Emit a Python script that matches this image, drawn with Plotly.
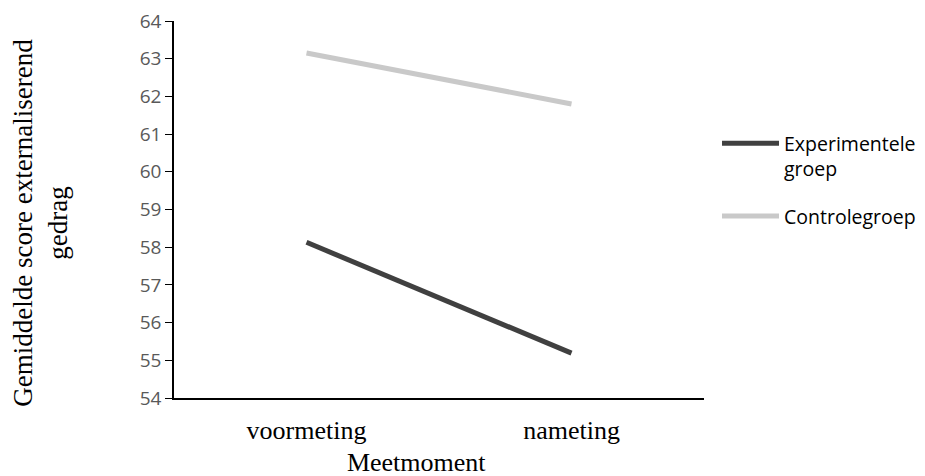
import plotly.graph_objects as go

categories = ["voormeting", "nameting"]
experimentele = [58.13, 55.19]
controle = [63.15, 61.8]
y_ticks = list(range(54, 65))

NB = "\u00a0"
END = "\u200b"
fig = go.Figure()
fig.add_trace(go.Scatter(x=categories, y=experimentele, mode="lines",
                         name="Experimentele<br>groep", legendgroup="exp",
                         line=dict(color="#404040", width=5)))
fig.add_trace(go.Scatter(x=categories, y=controle, mode="lines",
                         name="Controlegroep", legendgroup="ctl",
                         line=dict(color="#c9c9c9", width=5)))

serif = "Liberation Serif"
fig.update_layout(
    width=925, height=476,
    margin=dict(l=166, r=229, t=13, b=86, autoexpand=False),
    paper_bgcolor="white", plot_bgcolor="white",
    showlegend=True,
    legend=dict(xref="container", yref="container", x=0.7665, y=0.756,
                xanchor="left", yanchor="top",
                font=dict(family="Open Sans", size=19.5, color="black"),
                tracegroupgap=19, itemwidth=57, valign="top"),
    xaxis=dict(type="category", range=[-0.5, 1.5], showgrid=False,
               showline=True, linecolor="black", linewidth=1.5,
               ticks="", ticklabelstandoff=8,
               tickfont=dict(family=serif, size=26, color="black"),
               title=dict(text="Meetmoment" + NB * 7 + END,
                          font=dict(family=serif, size=26, color="black"),
                          standoff=9)),
    yaxis=dict(range=[54, 64], tickvals=y_ticks, showgrid=False, zeroline=False,
               showline=True, linecolor="black", linewidth=1.5,
               ticks="outside", ticklen=7, tickcolor="black", tickwidth=1.2,
               ticksuffix="\u2002\u2009", ticklabeloverflow="allow",
               tickfont=dict(family="Open Sans", size=19, color="#595959"),
               title=dict(text="Gemiddelde score externaliserend" + NB * 4 + "<br>gedrag" + NB * 4 + END,
                          font=dict(family=serif, size=27, color="black"),
                          standoff=65)),
)

fig.write_html("out.html")
